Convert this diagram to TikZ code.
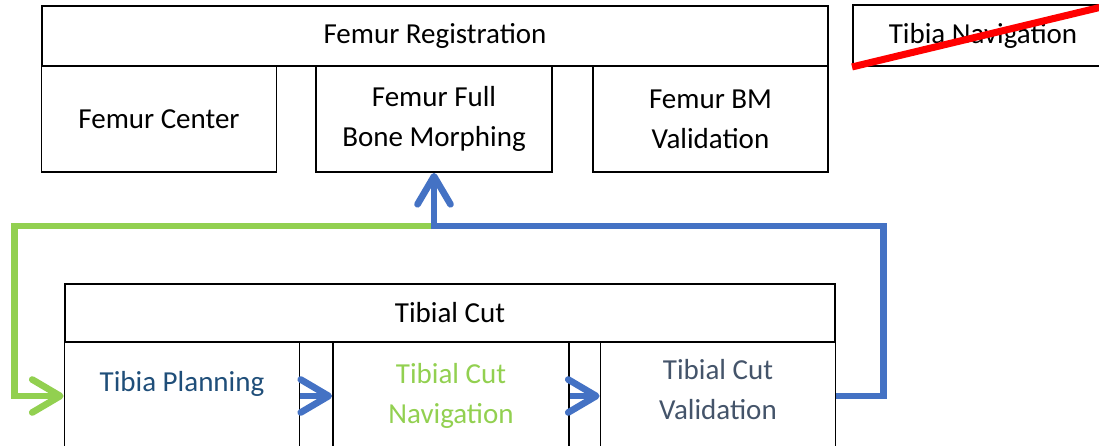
\documentclass[tikz,border=0pt]{standalone}
\usepackage{fontspec}
\setmainfont{Carlito}
\usetikzlibrary{arrows.meta}

\definecolor{stepgreen}{HTML}{92D050}
\definecolor{stepblue}{HTML}{4472C4}
\definecolor{planblue}{HTML}{1F4E79}
\definecolor{slate}{HTML}{44546A}

\begin{document}
\begin{tikzpicture}[x=0.02cm,y=-0.02cm,font=\fontsize{16.5}{22.8}\selectfont]
    \tikzset{
        block/.style={
            draw,line width=1.1pt,
            minimum width=4.70cm,minimum height=2.12cm,
            inner sep=2pt,align=center
        },
        header/.style={block,minimum height=1.20cm},
        sub/.style={block,minimum height=2.16cm},
        flow/.style={line width=3.8pt,
            -{Straight Barb[length=0.56cm,width=0.66cm,round]}},
        link/.style={line width=3.8pt}
    }
    \useasboundingbox (0,0) rectangle (1099,446);
    \clip (0,0) rectangle (1099,446);

    % femur registration
    \node[header,minimum width=15.72cm] (femreg) at (435,36) {Femur Registration};
    \node[block] (femcenter) at (159,119) {Femur Center};
    \node[block,minimum width=4.72cm] (femfull) at (434,119)
        {Femur Full\\Bone Morphing};
    \node[block] (fembm) at (710.5,119) {Femur BM\\Validation};

    \node[header,minimum width=5.20cm,minimum height=1.22cm] (tibnav)
        at (983,35.5) {Tibia Navigation};
    \draw[red,line width=4pt] (tibnav.south west) -- (tibnav.north east);

    % tibial cut
    \node[header,minimum width=15.40cm,minimum height=1.16cm] (tibcut)
        at (450,313) {Tibial Cut};
    \node[sub,text=planblue,text depth=0.6cm] (planning) at (182,396)
        {Tibia Planning};
    \node[sub,minimum width=4.72cm,text=stepgreen] (cutnav) at (451,396)
        {Tibial Cut\\Navigation};
    \node[sub,text=slate,text depth=0.25cm] (cutval) at (718,396)
        {Tibial Cut\\Validation};

    \coordinate (junc) at (femfull.south |- 0,226);

    \draw[link,stepgreen,flow] (junc) -| ([xshift=-0.98cm]planning.west)
        -- (planning.west);
    \draw[link,stepblue,flow] (cutval.east) -- ++(47,0) |- (junc)
        -- (femfull.south);
    \draw[stepblue,flow] (planning.east) -- (cutnav.west);
    \draw[stepblue,flow] (cutnav.east) -- (cutval.west);
\end{tikzpicture}
\end{document}
